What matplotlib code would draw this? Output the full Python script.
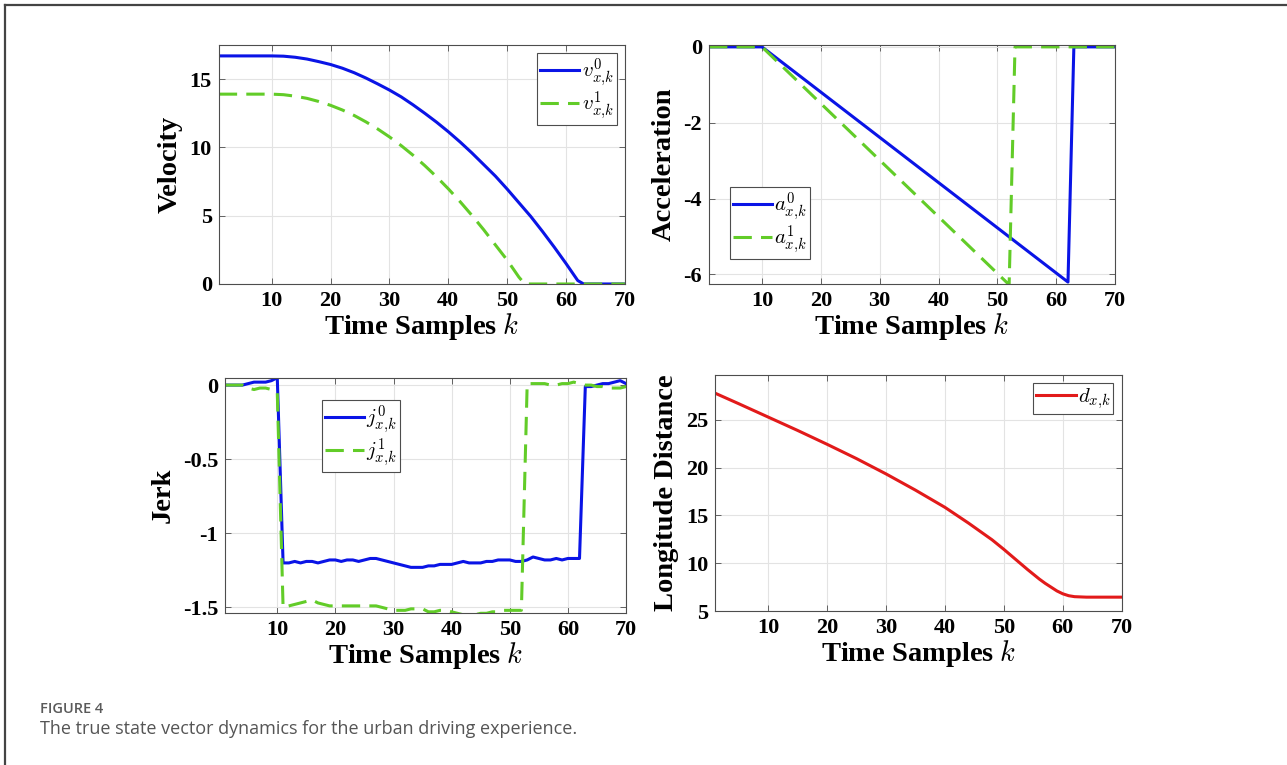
import numpy as np
import matplotlib.pyplot as plt
from matplotlib.lines import Line2D

plt.rcParams['font.family'] = ['Liberation Serif', 'DejaVu Serif']
plt.rcParams['font.weight'] = 'bold'
plt.rcParams['mathtext.fontset'] = 'cm'
plt.rcParams['axes.unicode_minus'] = False

BLUE = '#0a14e6'
GREEN = '#62cc28'
RED = '#e21a1a'

# velocity (read at the vertices of the curves)
k_v0 = [1, 10, 12, 14, 16, 18, 20, 22, 24, 26, 28, 30, 32, 34, 36, 38, 40,
        42, 44, 46, 48, 50, 52, 54, 56, 58, 60, 62, 63, 70]
v0 = [16.7, 16.7, 16.68, 16.6, 16.47, 16.28, 16.07, 15.8, 15.47, 15.08, 14.65,
      14.2, 13.7, 13.12, 12.5, 11.85, 11.15, 10.4, 9.6, 8.75, 7.9, 6.95, 5.95,
      4.95, 3.85, 2.7, 1.5, 0.25, 0.0, 0.0]
k_v1 = [1, 10, 12, 14, 16, 18, 20, 22, 24, 26, 28, 30, 32, 34, 36, 38, 40,
        42, 44, 46, 48, 50, 52, 53, 70]
v1 = [13.9, 13.9, 13.86, 13.75, 13.59, 13.36, 13.08, 12.74, 12.34, 11.87,
      11.35, 10.77, 10.13, 9.43, 8.67, 7.85, 6.97, 6.03, 5.03, 3.98, 2.86,
      1.75, 0.5, 0.0, 0.0]

# acceleration (piecewise linear)
k_a0 = [1, 10, 62, 63, 70]
a0 = [0.0, 0.0, -6.2, 0.0, 0.0]
k_a1 = [1, 10, 52, 53, 70]
a1 = [0.0, 0.0, -6.27, 0.0, 0.0]

# jerk, one value per sample k = 1..70
k_j = list(range(1, 71))
j0 = [0.00, 0.00, 0.00, 0.00, 0.01, 0.02, 0.02, 0.02, 0.03, 0.05,
      -1.20, -1.20, -1.19, -1.20, -1.19, -1.19, -1.20, -1.19, -1.18, -1.18,
      -1.19, -1.18, -1.18, -1.19, -1.18, -1.17, -1.17, -1.18, -1.19, -1.20,
      -1.21, -1.22, -1.23, -1.23, -1.23, -1.22, -1.22, -1.21, -1.21, -1.21,
      -1.20, -1.19, -1.20, -1.20, -1.20, -1.19, -1.19, -1.18, -1.18, -1.18,
      -1.19, -1.19, -1.18, -1.16, -1.17, -1.18, -1.18, -1.17, -1.18, -1.17,
      -1.17, -1.17, -0.01, -0.01, 0.00, 0.01, 0.01, 0.02, 0.03, 0.01]
j1 = [0.00, 0.00, 0.00, 0.00, -0.02, -0.03, -0.02, -0.02, -0.03, -0.05,
      -1.50, -1.49, -1.48, -1.47, -1.46, -1.45, -1.47, -1.48, -1.49, -1.49,
      -1.49, -1.49, -1.49, -1.49, -1.49, -1.49, -1.49, -1.50, -1.51, -1.52,
      -1.52, -1.52, -1.51, -1.51, -1.51, -1.53, -1.53, -1.52, -1.52, -1.53,
      -1.54, -1.55, -1.55, -1.55, -1.54, -1.54, -1.53, -1.53, -1.52, -1.52,
      -1.52, -1.52, 0.01, 0.01, 0.01, 0.01, 0.00, 0.00, 0.01, 0.01,
      0.02, 0.01, 0.00, 0.00, -0.01, -0.01, -0.02, -0.02, -0.02, -0.01]

# longitudinal distance
k_d = [1, 5, 10, 15, 20, 25, 30, 35, 40, 44, 48, 50, 52, 54, 56, 57, 58, 59,
       60, 61, 62, 64, 70]
d = [27.8, 26.7, 25.3, 23.9, 22.45, 20.95, 19.35, 17.65, 15.85, 14.2, 12.45,
     11.45, 10.4, 9.35, 8.35, 7.9, 7.5, 7.1, 6.8, 6.6, 6.5, 6.45, 6.45]

xticks = [10, 20, 30, 40, 50, 60, 70]

fig = plt.figure(figsize=(12.87, 7.65), dpi=100)

def style(ax, ylabel, yticks, ylim):
    ax.set_xlim(1, 70)
    ax.set_ylim(*ylim)
    ax.set_xticks(xticks)
    ax.set_yticks(yticks)
    ax.grid(True, color='#e3e3e3', linewidth=0.8)
    ax.set_axisbelow(True)
    for sp in ax.spines.values():
        sp.set_color('#4d4d4d')
        sp.set_linewidth(0.8)
    ax.tick_params(direction='in', length=4, width=0.6, color='#4d4d4d',
                   labelsize=16, pad=5, top=True, right=True)
    ax.set_xlabel('Time Samples $k$', fontsize=20.5, fontweight='bold', labelpad=0)
    ax.set_ylabel(ylabel, fontsize=20.5, fontweight='bold', labelpad=5)

dash = (6, 3)

ax1 = fig.add_axes([0.170, 0.6288, 0.3155, 0.3124])
ax1.plot(k_v0, v0, color=BLUE, lw=2.2, label='$v^0_{x{,}k}$')
ax1.plot(k_v1, v1, color=GREEN, lw=2.2, ls=(0, dash), label='$v^1_{x{,}k}$')
style(ax1, 'Velocity', [0, 5, 10, 15], (0, 17.5))

ax2 = fig.add_axes([0.5509, 0.6288, 0.3155, 0.3124])
ax2.plot(k_a0, a0, color=BLUE, lw=2.2, label='$a^0_{x{,}k}$')
ax2.plot(k_a1, a1, color=GREEN, lw=2.2, ls=(0, dash), label='$a^1_{x{,}k}$')
style(ax2, 'Acceleration', [-6, -4, -2, 0], (-6.25, 0.05))

ax3 = fig.add_axes([0.1748, 0.1983, 0.3116, 0.308])
ax3.plot(k_j, j0, color=BLUE, lw=2.2, label='$j^0_{x{,}k}$')
ax3.plot(k_j, j1, color=GREEN, lw=2.2, ls=(0, dash), label='$j^1_{x{,}k}$')
style(ax3, 'Jerk', [-1.5, -1, -0.5, 0], (-1.54, 0.05))
ax3.set_yticklabels(['-1.5', '-1', '-0.5', '0'])

ax4 = fig.add_axes([0.5556, 0.2013, 0.316, 0.3085])
ax4.plot(k_d, d, color=RED, lw=2.2, label='$d_{x{,}k}$')
style(ax4, 'Longitude Distance', [5, 10, 15, 20, 25], (5, 29.7))

leg_kw = dict(fontsize=15, handlelength=1.9, handletextpad=0.1,
              borderpad=0.15, labelspacing=0.0, fancybox=False,
              framealpha=1, edgecolor='#4d4d4d', borderaxespad=0.4)
for lg in [ax1.legend(loc='upper right', **leg_kw),
           ax2.legend(loc='lower left', bbox_to_anchor=(0.03, 0.07), **leg_kw),
           ax3.legend(loc='upper left', bbox_to_anchor=(0.22, 0.94), **leg_kw),
           ax4.legend(loc='upper right', **leg_kw)]:
    lg.get_frame().set_linewidth(0.8)

# outer frame of the page
fig.add_artist(Line2D([0.0035, 1.0], [0.9935, 0.9935], color='#444444', lw=1.6))
fig.add_artist(Line2D([0.0035, 0.0035], [0.0, 0.9935], color='#444444', lw=1.6))

fig.text(0.031, 0.068, 'FIGURE 4', fontsize=10.5, color='#5a5a5a',
         family=['Open Sans', 'DejaVu Sans'], fontweight='semibold')
fig.text(0.031, 0.041, 'The true state vector dynamics for the urban driving experience.',
         fontsize=13, color='#555555', family=['Open Sans', 'DejaVu Sans'],
         fontweight='normal')

fig.savefig('out.png', dpi=100)
